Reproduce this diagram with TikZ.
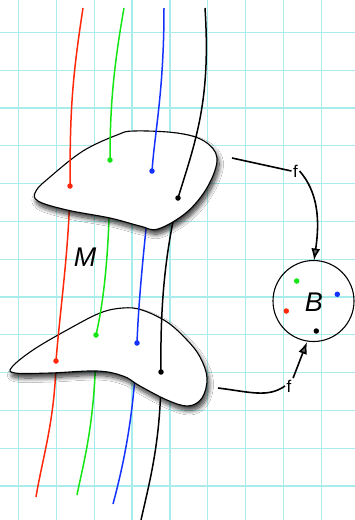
\documentclass[tikz,border=0pt]{standalone}
\usepackage{fontspec}
\newfontfamily\hv{Liberation Sans}
\usetikzlibrary{arrows.meta,shadows.blur}
\definecolor{gridc}{RGB}{168,236,236}
\definecolor{redc}{RGB}{255,40,10}
\definecolor{greenc}{RGB}{20,230,20}
\definecolor{bluec}{RGB}{20,50,255}
\tikzset{
  fiber/.style={line width=1.5pt},
  blob/.style={draw=black,line width=1.1pt,fill=white,
    blur shadow={shadow xshift=2pt,shadow yshift=-4.5pt,shadow blur steps=10,shadow opacity=80,shadow blur radius=4.5pt}},
  dotc/.style={circle,fill=#1,inner sep=0pt,minimum size=5.5pt},
  flab/.style={fill=white,inner sep=1.5pt,font=\hv\fontsize{17}{17}\selectfont},
  conn/.style={line width=1.6pt},
  arr/.style={conn,-{Latex[length=12pt,width=9pt]}},
  big/.style={font=\hv\itshape\fontsize{27}{27}\selectfont}
}
\begin{document}
\begin{tikzpicture}[x=1pt,y=-1pt]
\useasboundingbox (0,0) rectangle (355,520);
\fill[white] (0,0) rectangle (355,520);
% grid
\foreach \i in {0,...,8} \draw[gridc,line width=1.2pt] (18.3+37.9*\i,0) -- (18.3+37.9*\i,520);
\foreach \j in {0,...,12} \draw[gridc,line width=1.2pt] (0,32.3+37.8*\j) -- (355,32.3+37.8*\j);
% dot coordinates
\coordinate (r1) at (70,186); \coordinate (r2) at (56,361);
\coordinate (g1) at (110,160); \coordinate (g2) at (96,335);
\coordinate (b1) at (152,171); \coordinate (b2) at (137,343);
\coordinate (k1) at (178,198); \coordinate (k2) at (161,372);
% bottom pieces
\draw[fiber,redc] (r2) .. controls (55,420) and (42,460) .. (36,497);
\draw[fiber,greenc] (g2) .. controls (96,420) and (84,460) .. (77,495);
\draw[fiber,bluec] (b2) .. controls (134,420) and (122,470) .. (113,504);
\draw[fiber,black] (k2) .. controls (161,440) and (150,480) .. (141,520);
% lower blob
\draw[blob] plot[smooth cycle,tension=0.6] coordinates {(12,367) (33,350) (67,330) (100,313) (123,308) (142,310) (167,322) (187,340) (200,357) (207,378) (202,398) (188,406) (167,400) (140,386) (123,376) (97,371) (50,373) (15,373)};
% middle pieces
\draw[fiber,redc] (r1) .. controls (69,250) and (60,310) .. (r2);
\draw[fiber,greenc] (g1) .. controls (110,250) and (104,300) .. (g2);
\draw[fiber,bluec] (b1) .. controls (146,230) and (139,290) .. (b2);
\draw[fiber,black] (k1) .. controls (166,250) and (160,300) .. (k2);
% upper blob
\draw[blob] plot[smooth cycle,tension=0.6] coordinates {(36,191) (50,177) (83,151) (117,135) (134,131) (177,133) (204,141) (217,158) (208,186) (187,212) (158,229) (140,226) (110,218) (67,210) (38,201)};
% top pieces
\draw[fiber,redc] (83,8) .. controls (72,80) and (70,110) .. (r1);
\draw[fiber,greenc] (124,8) .. controls (113,70) and (110,110) .. (g1);
\draw[fiber,bluec] (164,8) .. controls (164,90) and (155,130) .. (b1);
\draw[fiber,black] (205,8) .. controls (211,100) and (196,140) .. (k1);
% dots
\foreach \p/\c in {r1/redc,r2/redc,g1/greenc,g2/greenc,b1/bluec,b2/bluec,k1/black,k2/black}
  \node[dotc=\c] at (\p) {};
% label M
\node[big] (M) at (85,257) {M};
% circle B
\draw[line width=1.1pt] (313.5,301) circle (40.5pt);
\node[big] (B) at (314,302) {B};
\node[dotc=greenc] (bg) at (296.7,281) {};
\node[dotc=bluec] (bb) at (337.3,294.3) {};
\node[dotc=redc] (br) at (286.3,311) {};
\node[dotc=black] (bk) at (316.3,331) {};
\coordinate (Btop) at (314,260.5);
\coordinate (Bbot) at (307,342);
% connectors
\coordinate (s1) at (232,158);
\coordinate (s2) at (218,388);
\node[flab] (f1) at (295.5,171) {f};
\node[flab] (f2) at (289,386) {f};
\draw[conn] (s1) -- (f1.west);
\draw[arr] (f1.east) .. controls (318,192) and (320,220) .. (Btop);
\draw[conn] (s2) .. controls (250,392) and (268,398) .. (f2.west);
\draw[arr] (f2.north east) -- (Bbot);
\end{tikzpicture}
\end{document}
